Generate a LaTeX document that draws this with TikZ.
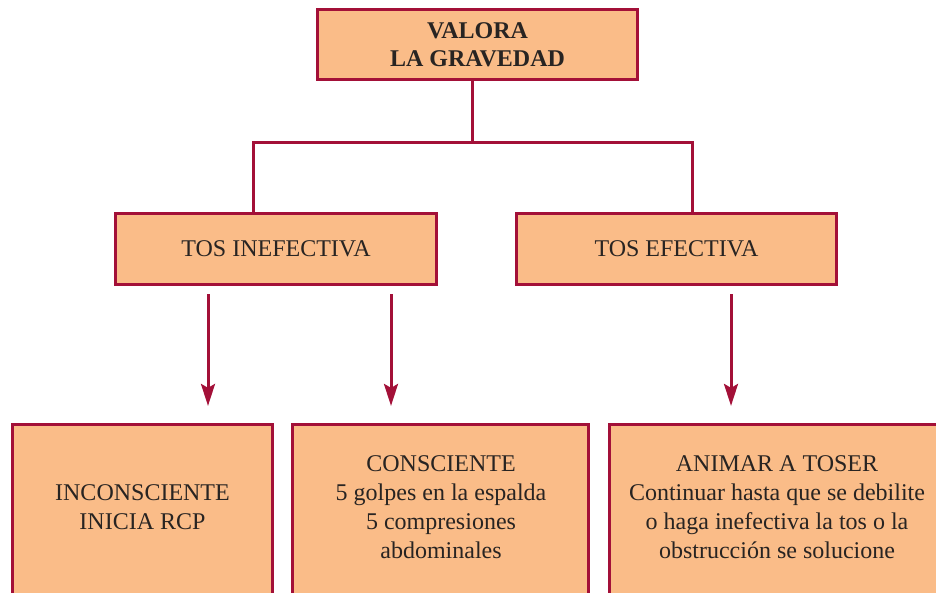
\documentclass[tikz,border=0pt]{standalone}
\usepackage{fontspec}
\setmainfont{Liberation Serif}
\usetikzlibrary{arrows.meta}
\definecolor{boxfill}{RGB}{250,188,136}
\definecolor{boxline}{RGB}{163,16,56}
\definecolor{txt}{RGB}{40,36,34}
\begin{document}
\begin{tikzpicture}[x=1pt,y=-1pt,
  box/.style={draw=boxline, line width=3.2pt, fill=boxfill, inner sep=0pt,
    text=txt, align=center, font=\fontsize{24}{29}\selectfont},
  boxtext/.style={text=txt, align=center, font=\fontsize{24}{29}\selectfont, inner sep=0pt},
  conn/.style={draw=boxline, line width=3pt},
  arr/.style={conn, -{Stealth[length=22pt,width=14pt,inset=4pt]}, shorten <=8pt, shorten >=17pt}]
\useasboundingbox (0,0) rectangle (936,592);
\clip (0,0) rectangle (936,592);
% top
\node[box, font=\bfseries\fontsize{24}{28}\selectfont, minimum width=320pt, minimum height=70pt] (top) at (477.5,44.5) {VALORA\\LA GRAVEDAD};
% middle row
\node[box, minimum width=321pt, minimum height=71pt] (ml) at (276,249) {TOS INEFECTIVA};
\node[box, minimum width=320pt, minimum height=71pt] (mr) at (676.5,249) {TOS EFECTIVA};
% bottom row
\node[box, minimum width=260pt, minimum height=184pt] (bl) at (142.5,516.5) {};
\node[box, minimum width=296pt, minimum height=184pt] (bm) at (440.5,516.5) {};
\node[box, minimum width=335pt, minimum height=184pt] (br) at (777,516.5) {};
\node[boxtext] (blt) at (142.5,507.5) {INCONSCIENTE\\INICIA RCP};
\node[boxtext] (bmt) at (441,507.5) {CONSCIENTE\\5 golpes en la espalda\\5 compresiones\\abdominales};
\node[boxtext] (brt) at (777,507.5) {ANIMAR A TOSER\\Continuar hasta que se debilite\\o haga inefectiva la tos o la\\obstrucción se solucione};
% connectors
\coordinate (split) at (472,142);
\coordinate (jL) at (253,142);
\coordinate (jR) at (692,142);
\draw[conn] (top.south -| split) -- (split);
\draw[conn] (ml.north -| jL) -- (jL) -- (jR) -- (mr.north -| jR);
\coordinate (a1) at (208,0);
\coordinate (a2) at (391,0);
\coordinate (a3) at (731,0);
\draw[arr] (ml.south -| a1) -- (bl.north -| a1);
\draw[arr] (ml.south -| a2) -- (bm.north -| a2);
\draw[arr] (mr.south -| a3) -- (br.north -| a3);
\end{tikzpicture}
\end{document}
